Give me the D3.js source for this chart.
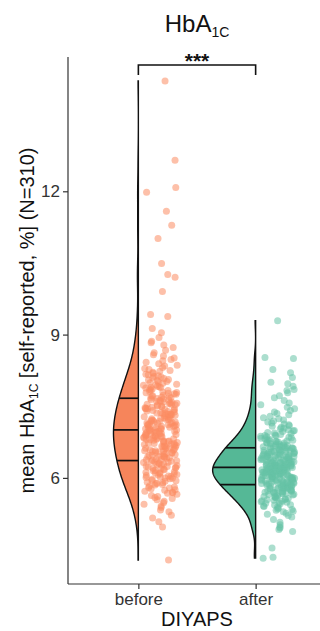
<!DOCTYPE html>
<html>
<head>
<meta charset="utf-8">
<script src="https://cdn.jsdelivr.net/npm/d3@7"></script>
<style>
  html, body { margin: 0; padding: 0; background: #fff; }
  svg { display: block; font-family: "Liberation Sans", Arial, sans-serif; }
</style>
</head>
<body>
<div id="chart"></div>
<script>
// categories and values (self-reported mean HbA1c, %)
const categories = ["before", "after"];

const beforeValues = [
  4.28, 4.97, 5.08, 5.16, 5.22, 5.29, 5.33, 5.38, 5.41, 5.45, 5.48,
  5.51, 5.54, 5.57, 5.59, 5.61, 5.63, 5.66, 5.68, 5.69,
  5.70, 5.72, 5.74, 5.75, 5.77, 5.79, 5.80, 5.81, 5.83, 5.85, 5.86, 5.88, 5.89,
  5.90, 5.91, 5.93, 5.94, 5.95, 5.97, 5.98, 5.99,
  6.00, 6.01, 6.02, 6.03, 6.04, 6.05, 6.06, 6.07, 6.08, 6.09,
  6.10, 6.11, 6.12, 6.13, 6.15, 6.16, 6.17, 6.18, 6.19,
  6.20, 6.21, 6.22, 6.23, 6.24, 6.25, 6.26, 6.27, 6.28, 6.29,
  6.30, 6.31, 6.32, 6.33, 6.34, 6.35, 6.35, 6.36, 6.37, 6.38, 6.39,
  6.40, 6.41, 6.42, 6.43, 6.44, 6.44, 6.45, 6.46, 6.47, 6.48, 6.49,
  6.50, 6.51, 6.52, 6.53, 6.53, 6.54, 6.55, 6.56, 6.57, 6.57, 6.58, 6.59,
  6.60, 6.61, 6.62, 6.62, 6.63, 6.64, 6.65, 6.66, 6.66, 6.67, 6.68, 6.69,
  6.70, 6.71, 6.72, 6.72, 6.73, 6.74, 6.75, 6.76, 6.76, 6.77, 6.78, 6.79,
  6.80, 6.81, 6.81, 6.82, 6.83, 6.84, 6.84, 6.85, 6.86, 6.87, 6.87, 6.88, 6.89,
  6.90, 6.91, 6.92, 6.92, 6.93, 6.94, 6.95, 6.95, 6.96, 6.97, 6.98, 6.98, 6.99,
  7.00, 7.01, 7.02, 7.02, 7.03, 7.04, 7.05, 7.05, 7.06, 7.07, 7.08, 7.08, 7.09,
  7.10, 7.11, 7.11, 7.12, 7.13, 7.14, 7.14, 7.15, 7.16, 7.17, 7.17, 7.18, 7.19,
  7.20, 7.21, 7.22, 7.23, 7.24, 7.25, 7.25, 7.26, 7.27, 7.28, 7.29,
  7.30, 7.31, 7.32, 7.33, 7.33, 7.34, 7.35, 7.36, 7.36, 7.37, 7.38, 7.39,
  7.40, 7.41, 7.42, 7.43, 7.44, 7.45, 7.45, 7.46, 7.47, 7.48, 7.49,
  7.50, 7.51, 7.52, 7.53, 7.54, 7.54, 7.55, 7.56, 7.57, 7.58, 7.59,
  7.60, 7.61, 7.62, 7.63, 7.64, 7.65, 7.66, 7.67, 7.68, 7.69,
  7.70, 7.71, 7.72, 7.73, 7.75, 7.76, 7.77, 7.78, 7.79,
  7.80, 7.81, 7.83, 7.84, 7.85, 7.86, 7.88, 7.89,
  7.90, 7.91, 7.92, 7.94, 7.95, 7.96, 7.98, 7.99,
  8.01, 8.02, 8.04, 8.05, 8.06, 8.08, 8.09,
  8.11, 8.12, 8.14, 8.16, 8.17, 8.19,
  8.21, 8.23, 8.25, 8.27, 8.29,
  8.31, 8.34, 8.36, 8.39, 8.42, 8.45, 8.48, 8.51, 8.55, 8.58,
  8.62, 8.67, 8.73, 8.78, 8.83, 8.86, 8.94, 9.04,
  9.13, 9.38, 9.42, 9.90, 10.20, 10.26, 10.49, 11.01, 11.29, 11.58,
  11.98, 12.08, 12.65, 14.31
];

const afterValues = [
  4.32, 4.34, 4.53, 4.88, 4.92, 4.95, 4.97,
  5.02, 5.07, 5.13, 5.18, 5.21, 5.24, 5.26, 5.29,
  5.30, 5.32, 5.34, 5.35, 5.37, 5.39,
  5.40, 5.41, 5.43, 5.44, 5.46, 5.47, 5.48, 5.49,
  5.50, 5.51, 5.52, 5.53, 5.54, 5.55, 5.56, 5.57, 5.58, 5.59,
  5.60, 5.61, 5.61, 5.62, 5.63, 5.64, 5.65, 5.66, 5.67, 5.68, 5.68, 5.69, 5.69,
  5.70, 5.70, 5.71, 5.72, 5.72, 5.73, 5.74, 5.75, 5.75, 5.76, 5.77, 5.78, 5.78, 5.79, 5.79,
  5.80, 5.80, 5.81, 5.81, 5.82, 5.83, 5.83, 5.84, 5.85, 5.85, 5.86, 5.86, 5.87, 5.87, 5.88, 5.88, 5.89, 5.89,
  5.90, 5.90, 5.91, 5.91, 5.92, 5.92, 5.93, 5.93, 5.94, 5.95, 5.95, 5.96, 5.96, 5.97, 5.97, 5.98, 5.98, 5.99, 5.99,
  6.00, 6.00, 6.01, 6.01, 6.02, 6.02, 6.03, 6.03, 6.03, 6.04, 6.04, 6.05, 6.05, 6.06, 6.06, 6.06, 6.07, 6.07, 6.08, 6.08, 6.09, 6.09,
  6.10, 6.10, 6.11, 6.11, 6.12, 6.12, 6.12, 6.13, 6.13, 6.14, 6.14, 6.15, 6.15, 6.15, 6.16, 6.16, 6.17, 6.17, 6.17, 6.18, 6.18, 6.19, 6.19,
  6.20, 6.20, 6.21, 6.21, 6.22, 6.22, 6.22, 6.23, 6.23, 6.24, 6.24, 6.25, 6.25, 6.25, 6.26, 6.26, 6.27, 6.27, 6.27, 6.28, 6.28, 6.29, 6.29,
  6.30, 6.30, 6.31, 6.31, 6.32, 6.32, 6.33, 6.33, 6.34, 6.34, 6.35, 6.35, 6.36, 6.36, 6.37, 6.37, 6.38, 6.38, 6.39, 6.39,
  6.40, 6.41, 6.41, 6.42, 6.43, 6.43, 6.44, 6.44, 6.45, 6.45, 6.46, 6.46, 6.47, 6.47, 6.48, 6.48, 6.49, 6.49,
  6.50, 6.51, 6.51, 6.52, 6.53, 6.53, 6.54, 6.54, 6.55, 6.55, 6.56, 6.56, 6.57, 6.58, 6.58, 6.59, 6.59,
  6.60, 6.61, 6.62, 6.62, 6.63, 6.63, 6.64, 6.65, 6.65, 6.66, 6.66, 6.67, 6.68, 6.68, 6.69,
  6.70, 6.71, 6.72, 6.73, 6.73, 6.74, 6.75, 6.76, 6.76, 6.77, 6.78, 6.79,
  6.80, 6.81, 6.82, 6.83, 6.84, 6.85, 6.86, 6.87, 6.88, 6.89,
  6.90, 6.91, 6.93, 6.94, 6.95, 6.97, 6.98, 6.99,
  7.01, 7.03, 7.04, 7.06, 7.08, 7.09,
  7.11, 7.13, 7.15, 7.17, 7.19,
  7.21, 7.24, 7.26, 7.29, 7.32, 7.35, 7.38, 7.41, 7.45, 7.48, 7.53, 7.57,
  7.62, 7.68, 7.72, 7.78, 7.83, 7.85, 7.92, 7.97, 8.00, 8.10, 8.20, 8.27,
  8.50, 8.52, 9.29
];

const yTicks = [6, 9, 12];
const quantileLevels = [0.25, 0.5, 0.75];

const violinFill = { before: "#F6855B", after: "#55B896" };
const pointFill = { before: "#FC8D62", after: "#66C2A5" };

const W = 320, H = 631;
const panel = { left: 68, right: 326, top: 57, bottom: 584 };

const groups = [
  { key: "before", values: beforeValues.slice().sort(d3.ascending) },
  { key: "after", values: afterValues.slice().sort(d3.ascending) }
];

const svg = d3.select("#chart").append("svg")
  .attr("width", W)
  .attr("height", H);

// scales (ggplot-style 5% expansion on y)
const ext = d3.extent(beforeValues.concat(afterValues));
const pad = (ext[1] - ext[0]) * 0.05;
const y = d3.scaleLinear()
  .domain([ext[0] - pad, ext[1] + pad])
  .range([panel.bottom, panel.top]);

const x = d3.scalePoint()
  .domain(categories)
  .range([panel.left, panel.right])
  .padding(0.6);

// kernel density, bw.nrd0 like R
function nrd0(v) {
  const sd = d3.deviation(v);
  const iqr = d3.quantile(v, 0.75) - d3.quantile(v, 0.25);
  return 0.9 * Math.min(sd, iqr / 1.34) * Math.pow(v.length, -0.2);
}
function density(v, bw, t) {
  const k = 1 / (bw * Math.sqrt(2 * Math.PI));
  return d3.mean(v, d => k * Math.exp(-0.5 * ((t - d) / bw) ** 2));
}

groups.forEach(g => {
  g.bw = nrd0(g.values);
  const lo = g.values[0], hi = g.values[g.values.length - 1];
  g.curve = d3.range(400).map(i => {
    const t = lo + (hi - lo) * i / 399;
    return [t, density(g.values, g.bw, t)];
  });
});

const maxDens = d3.max(groups, g => d3.max(g.curve, d => d[1]));
const w = d3.scaleLinear().domain([0, maxDens]).range([0, 43]);

// half violins
groups.forEach(g => {
  const cx = x(g.key);
  const area = d3.area()
    .y(d => y(d[0]))
    .x0(d => cx - w(d[1]))
    .x1(cx);

  svg.append("path")
    .datum(g.curve)
    .attr("d", area)
    .attr("fill", violinFill[g.key])
    .attr("stroke", "#111")
    .attr("stroke-width", 1.4);

  svg.selectAll(null)
    .data(quantileLevels)
    .enter()
    .append("line")
    .attr("x1", q => cx - w(density(g.values, g.bw, d3.quantile(g.values, q))))
    .attr("x2", cx)
    .attr("y1", q => y(d3.quantile(g.values, q)))
    .attr("y2", q => y(d3.quantile(g.values, q)))
    .attr("stroke", "#111")
    .attr("stroke-width", 1.7);
});

// jittered points, to the right of each violin
function jit(i, seed) {
  const s = Math.sin((i + 1) * 12.9898 + seed * 78.233) * 43758.5453;
  return s - Math.floor(s);
}
groups.forEach((g, gi) => {
  const cx = x(g.key);
  svg.append("g")
    .selectAll("circle")
    .data(g.values)
    .enter()
    .append("circle")
    .attr("cx", (d, i) => cx + 22 + (jit(i, gi + 1) * 2 - 1) * 17)
    .attr("cy", d => y(d))
    .attr("r", 3.5)
    .attr("fill", pointFill[g.key])
    .attr("fill-opacity", 0.55);
});

// axes
const yAxis = svg.append("g")
  .attr("transform", `translate(${panel.left},0)`)
  .call(d3.axisLeft(y).tickValues(yTicks).tickSize(5).tickPadding(3));
const xAxis = svg.append("g")
  .attr("transform", `translate(0,${panel.bottom})`)
  .call(d3.axisBottom(x).tickSize(5).tickPadding(4));

[yAxis, xAxis].forEach(a => {
  a.select(".domain").attr("stroke", "#333").attr("stroke-width", 1.2);
  a.selectAll(".tick line").attr("stroke", "#333").attr("stroke-width", 1.2);
  a.selectAll(".tick text")
    .attr("fill", "#333")
    .style("font-size", "17px")
    .style("font-family", "'Liberation Sans', Arial, sans-serif");
});
yAxis.select(".domain").attr("d", `M0,${panel.top}V${panel.bottom}`);
xAxis.select(".domain").attr("d", `M${panel.left},0H${panel.right}`);

// significance bracket
const bx0 = x("before"), bx1 = x("after");
svg.append("path")
  .attr("d", `M${bx0},75V65H${bx1}V75`)
  .attr("fill", "none")
  .attr("stroke", "#111")
  .attr("stroke-width", 1.6);
svg.append("text")
  .attr("x", (bx0 + bx1) / 2)
  .attr("y", 68)
  .attr("text-anchor", "middle")
  .style("font-size", "21px")
  .style("font-weight", "bold")
  .attr("fill", "#111")
  .text("***");

// title
const midX = (panel.left + panel.right) / 2;
const title = svg.append("text")
  .attr("x", midX)
  .attr("y", 32)
  .attr("text-anchor", "middle")
  .style("font-size", "24px")
  .attr("fill", "#111");
title.append("tspan").text("HbA");
title.append("tspan").attr("dy", 5).style("font-size", "14px").text("1C");

// axis titles
svg.append("text")
  .attr("x", midX)
  .attr("y", 626)
  .attr("text-anchor", "middle")
  .style("font-size", "20px")
  .attr("fill", "#111")
  .text("DIYAPS");

const yt = svg.append("text")
  .attr("transform", `translate(34,${(panel.top + panel.bottom) / 2}) rotate(-90)`)
  .attr("text-anchor", "middle")
  .style("font-size", "20px")
  .attr("fill", "#111");
yt.append("tspan").text("mean HbA");
yt.append("tspan").attr("dy", 4).style("font-size", "12px").text("1C");
yt.append("tspan").attr("dy", -4).text(" [self-reported, %] (N=310)");
</script>
</body>
</html>
